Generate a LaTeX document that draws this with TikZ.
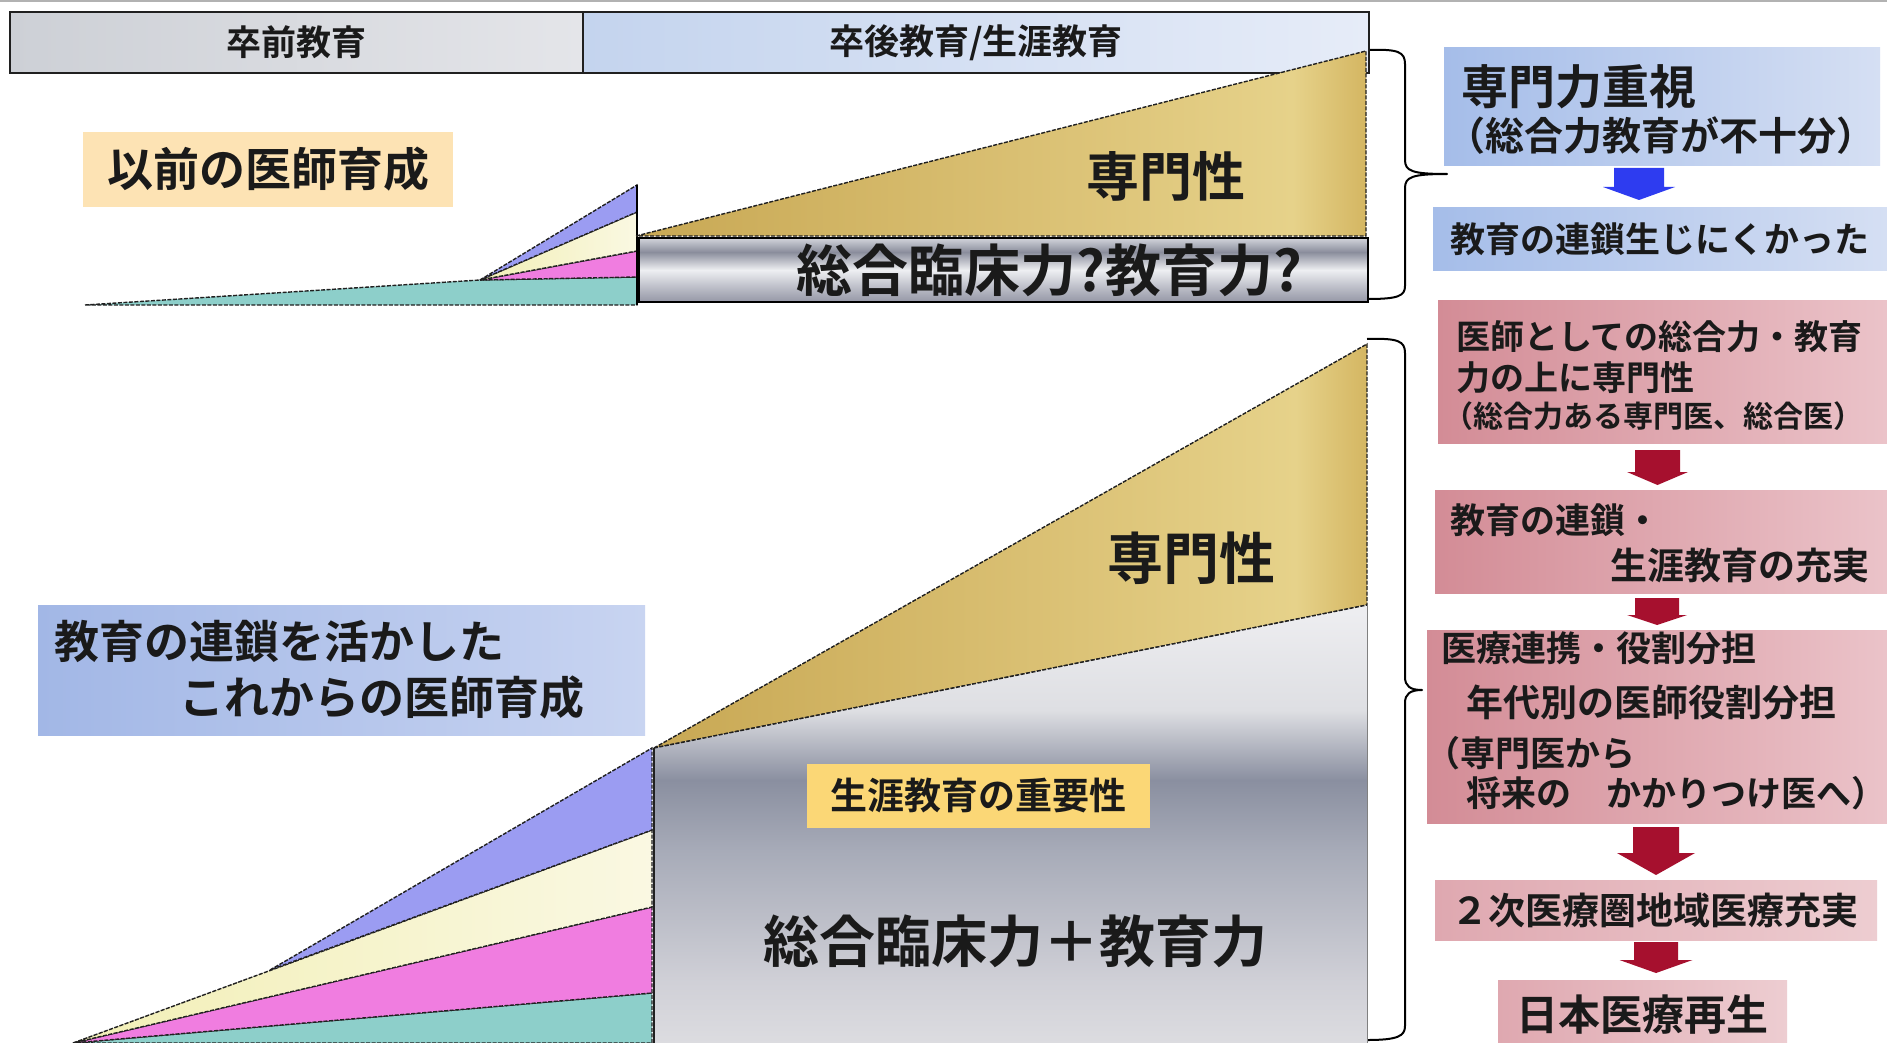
\documentclass[tikz,border=0pt]{standalone}
\usepackage{fontspec}
\newfontfamily\jp{Noto Sans CJK JP}[BoldFont={Noto Sans CJK JP Bold}]
\usetikzlibrary{calc}
\definecolor{ink}{HTML}{1A1A1A}
\definecolor{edge}{HTML}{202020}
\definecolor{hdrLa}{HTML}{CDD0D6}
\definecolor{hdrLb}{HTML}{E4E5E9}
\definecolor{hdrRa}{HTML}{C4D4EE}
\definecolor{hdrRb}{HTML}{E6ECF8}
\definecolor{peach}{HTML}{FDE3B4}
\definecolor{lblA}{HTML}{A2B7E6}
\definecolor{lblB}{HTML}{C8D4F1}
\definecolor{lifeY}{HTML}{FBD776}
\definecolor{wBlue}{HTML}{9B9CF2}
\definecolor{wYel}{HTML}{F2EFB6}
\definecolor{wYelB}{HTML}{FAF8E2}
\definecolor{wPink}{HTML}{F07DE0}
\definecolor{wTeal}{HTML}{8DCFCA}
\definecolor{blA}{HTML}{A5BDE9}
\definecolor{blB}{HTML}{D5DFF3}
\definecolor{rdA}{HTML}{D38C96}
\definecolor{rdB}{HTML}{EBC3C9}
\definecolor{rdC}{HTML}{DFA8B0}
\definecolor{rdD}{HTML}{EDCDD1}
\definecolor{arrRed}{HTML}{A6102E}
\definecolor{arrBlue}{HTML}{2E3CF0}
\definecolor{mA}{HTML}{9597A6}
\definecolor{mB}{HTML}{BABCC6}
\definecolor{mC}{HTML}{EEEFF2}
\definecolor{mD}{HTML}{8A8D9C}
\definecolor{mE}{HTML}{D2D4DB}
\definecolor{gA}{HTML}{DCDCE0}
\definecolor{gB}{HTML}{D0D0D7}
\definecolor{gC}{HTML}{A7ABB8}
\definecolor{gD}{HTML}{8A8FA0}
\definecolor{gE}{HTML}{DEDFE3}
\definecolor{gF}{HTML}{EEEEF1}
\definecolor{goA}{HTML}{C8A854}
\definecolor{goB}{HTML}{DCC377}
\definecolor{goC}{HTML}{E6D28A}
\definecolor{goD}{HTML}{D4B662}
\pgfdeclareverticalshading{metalbar}{100bp}{color(0bp)=(mA); color(25bp)=(mA); color(36bp)=(mB); color(50bp)=(mC); color(64bp)=(mD); color(75bp)=(mE); color(100bp)=(mE)}
\pgfdeclareverticalshading{bigmetal}{100bp}{color(0bp)=(gA); color(25bp)=(gA); color(32bp)=(gB); color(47bp)=(gC); color(55bp)=(gD); color(63bp)=(gE); color(75bp)=(gF); color(100bp)=(gF)}
\pgfdeclarehorizontalshading{goldsh}{100bp}{color(0bp)=(goA); color(25bp)=(goA); color(55bp)=(goB); color(70bp)=(goC); color(75bp)=(goD); color(100bp)=(goD)}
\newcommand\barrow[6]{%
  \fill[#1] let \p1=#2, \p2=#3 in
    (\x1-#4pt,\y1) -- (\x1+#4pt,\y1) -- (\x1+#4pt,\y2+#6pt) -- (\x1+#5pt,\y2+#6pt)
    -- (\x1,\y2) -- (\x1-#5pt,\y2+#6pt) -- (\x1-#4pt,\y2+#6pt) -- cycle;}
\tikzset{
  jt/.style={inner sep=0pt, outer sep=0pt, text=ink, font={\jp\bfseries\fontsize{#1}{#1}\selectfont}},
  boxnw/.style={anchor=north west, inner sep=0pt, outer sep=0pt, draw=none},
  hdr/.style={boxnw, draw=edge, line width=1.5pt, minimum height=61pt},
  wedge/.style={draw=edge, line width=1.4pt, dash pattern=on 4pt off 1.5pt},
  bracepath/.style={draw=black, line width=2pt, line join=round}
}
\begin{document}
\begin{tikzpicture}[x=1pt,y=-1pt]
\useasboundingbox (0,0) rectangle (1887,1043);
\fill[white] (0,0) rectangle (1887,1043);
\draw[gray!60, line width=2pt] (0,1) -- (1887,1);
% headers
\node[hdr, left color=hdrLa, right color=hdrLb, minimum width=573pt, jt=35] (pre) at (10,12) {卒前教育};
\node[hdr, left color=hdrRa, right color=hdrRb, minimum width=786pt, jt=35] (post) at (583,12) {卒後教育/生涯教育};
% old label
\node[boxnw, fill=peach, minimum width=370pt, minimum height=75pt, jt=46] (old) at (83,132) {以前の医師育成};
% small fan
\coordinate (sO) at (85,305);
\coordinate (sF) at (480,280);
\filldraw[wedge, fill=wTeal] (sO) -- (sF) -- (637,277) -- (637,305) -- cycle;
\filldraw[wedge, fill=wPink] (sF) -- (637,251) -- (637,277) -- cycle;
\filldraw[wedge, left color=wYel, right color=wYelB] (sF) -- (637,212) -- (637,251) -- cycle;
\filldraw[wedge, fill=wBlue] (sF) -- (637,185) -- (637,212) -- cycle;
\draw[black, line width=1.5pt] (637,185) -- (637,305);
% top gold
\path[shade, shading=goldsh, wedge] (636,236) -- (1366,51) -- (1366,236) -- cycle;
\node[jt=53] (spec1) at (1166,176) {専門性};
% top bar
\node[boxnw, shade, shading=metalbar, draw=black, line width=1.5pt, minimum width=729pt, minimum height=64pt] (bar) at (639,238) {};
\node[jt=56] (barTxt) at (1049,270) {総合臨床力?教育力?};
% brace 1
\path[bracepath] (1370,50) .. controls (1398,49) and (1405,52) .. (1405,64) -- (1405,160)
  .. controls (1405,171) and (1412,174) .. (1447,174)
  .. controls (1412,174) and (1405,177) .. (1405,188) -- (1405,286)
  .. controls (1405,296) and (1398,299) .. (1368,299);
% brace 2
\path[bracepath] (1367,339) .. controls (1398,338) and (1405,341) .. (1405,353) -- (1405,677)
  .. controls (1405,686) and (1410,690) .. (1422,690)
  .. controls (1410,690) and (1405,694) .. (1405,703) -- (1405,1026)
  .. controls (1405,1036) and (1398,1040) .. (1367,1040);
% right column
\node[boxnw, left color=blA, right color=blB, minimum width=436pt, minimum height=118pt] (b1) at (1444,48) {};
\node[jt=47, anchor=west] (b1t1) at (1461,87) {専門力重視};
\node[jt=39, anchor=west] (b1t2) at (1446,136) {（総合力教育が不十分）};
\node[boxnw, left color=blA, right color=blB, minimum width=454pt, minimum height=62pt] (b2) at (1433,208) {};
\node[jt=35, anchor=west] (b2t) at (1450,239) {教育の連鎖生じにくかった};
\node[boxnw, left color=rdA, right color=rdB, minimum width=449pt, minimum height=143pt] (r1) at (1438,300) {};
\node[jt=34, anchor=west] (r1t1) at (1456,337) {医師としての総合力・教育};
\node[jt=34, anchor=west] (r1t2) at (1456,378) {力の上に専門性};
\node[jt=30, anchor=west] (r1t3) at (1443,416) {（総合力ある専門医、総合医）};
\node[boxnw, left color=rdA, right color=rdB, minimum width=452pt, minimum height=103pt] (r2) at (1435,490) {};
\node[jt=35, anchor=west] (r2t1) at (1450,520) {教育の連鎖・};
\node[jt=37, anchor=east] (r2t2) at (1869,566) {生涯教育の充実};
\node[boxnw, left color=rdA, right color=rdB, minimum width=460pt, minimum height=193pt] (r3) at (1427,630) {};
\node[jt=35, anchor=west] (r3t1) at (1441,648) {医療連携・役割分担};
\node[jt=37, anchor=west] (r3t2) at (1466,702) {年代別の医師役割分担};
\node[jt=35, anchor=west] (r3t3) at (1425,753) {（専門医から};
\node[jt=35, anchor=west] (r3t4) at (1466,793) {将来の　かかりつけ医へ）};
\node[boxnw, left color=rdC, right color=rdD, minimum width=442pt, minimum height=60pt] (r4) at (1435,880) {};
\node[jt=37] (r4t) at (1655,910) {２次医療圏地域医療充実};
\node[boxnw, left color=rdC, right color=rdD, minimum width=289pt, minimum height=63pt] (r5) at (1498,980) {};
\node[jt=42] (r5t) at (1642,1015) {日本医療再生};
% arrows
\barrow{arrBlue}{([xshift=-23pt,yshift=-2pt]b1.south)}{([yshift=8pt]b2.north)}{25}{36}{13}
\barrow{arrRed}{([xshift=-5pt,yshift=-7pt]r1.south)}{([yshift=5pt]r2.north)}{22.5}{30.5}{13}
\barrow{arrRed}{([xshift=-4pt,yshift=-5pt]r2.south)}{([yshift=5pt]r3.north)}{22}{30}{10}
\barrow{arrRed}{([xshift=-1pt,yshift=-4pt]r3.south)}{([yshift=5pt]r4.north)}{23}{39}{22}
\barrow{arrRed}{([xshift=0pt,yshift=-2pt]r4.south)}{([yshift=7pt]r5.north)}{22}{36.5}{13}
% new label
\node[boxnw, left color=lblA, right color=lblB, minimum width=607pt, minimum height=130pt] (new) at (38,605) {};
\node[jt=45, anchor=west] (newt1) at (54,641) {教育の連鎖を活かした};
\node[jt=45, anchor=west] (newt2) at (179,697) {これからの医師育成};
% big fan
\coordinate (bO) at (73,1043);
\coordinate (bK) at (270,970);
\filldraw[wedge, fill=wTeal] (bO) -- (652,993) -- (652,1043) -- cycle;
\filldraw[wedge, fill=wPink] (bO) -- (652,907) -- (652,993) -- cycle;
\filldraw[wedge, left color=wYel, right color=wYelB] (bO) -- (652,830) -- (652,907) -- cycle;
\filldraw[wedge, fill=wBlue] (bK) -- (652,748) -- (652,830) -- cycle;
% big gold and gray
\path[shade, shading=goldsh, wedge] (654,748) -- (1367,344) -- (1367,605) -- cycle;
\path[shade, shading=bigmetal] (654,748) -- (1367,605) -- (1367,1043) -- (654,1043) -- cycle;
\draw[wedge] (654,748) -- (1367,605);
\draw[edge, line width=1.2pt] (654,748) -- (654,1043);
\draw[gray, line width=1pt] (1367,605) -- (1367,1043);
\node[jt=56] (spec2) at (1191,558) {専門性};
\node[boxnw, fill=lifeY, minimum width=343pt, minimum height=64pt, jt=37] (life) at (807,764) {生涯教育の重要性};
\node[jt=56] (total) at (1015,941) {総合臨床力＋教育力};
\end{tikzpicture}
\end{document}
